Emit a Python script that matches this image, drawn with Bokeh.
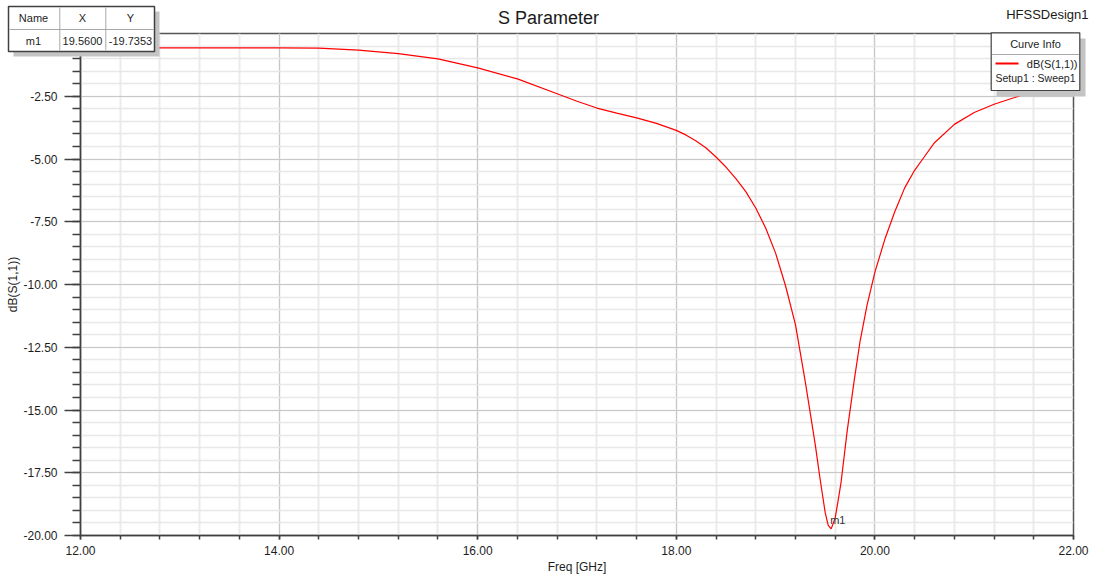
from bokeh.plotting import figure
from bokeh.layouts import column
from bokeh.models import SingleIntervalTicker, PrintfTickFormatter, Label, BoxAnnotation, Range1d
from bokeh.embed import file_html
from bokeh.resources import INLINE

# ---- data ----
freq_ghz = [12.0, 12.4, 12.8, 13.2, 13.6, 14.0, 14.4, 14.8, 15.2, 15.6, 16.0, 16.4, 16.8,
            17.0, 17.2, 17.4, 17.6, 17.8, 18.0, 18.1, 18.2, 18.3, 18.4, 18.5, 18.6, 18.7,
            18.8, 18.9, 19.0, 19.1, 19.2, 19.3, 19.4, 19.45, 19.5, 19.53, 19.56, 19.6,
            19.63, 19.66, 19.72, 19.79, 19.85, 19.92, 20.0, 20.1, 20.2, 20.3, 20.4, 20.5,
            20.6, 20.8, 21.0, 21.2, 21.4, 21.6, 21.8, 22.0]
db_s11 = [-0.57, -0.57, -0.57, -0.57, -0.57, -0.57, -0.58, -0.66, -0.80, -1.01, -1.37, -1.81, -2.40,
          -2.70, -2.97, -3.17, -3.36, -3.58, -3.86, -4.05, -4.28, -4.56, -4.92, -5.32, -5.78, -6.30,
          -6.95, -7.75, -8.75, -10.05, -11.60, -13.90, -16.40, -17.80, -19.10, -19.60, -19.7353, -19.30,
          -18.60, -17.86, -15.86, -13.87, -12.28, -10.84, -9.51, -8.20, -7.10, -6.15, -5.45, -4.90,
          -4.35, -3.62, -3.15, -2.82, -2.56, -2.29, -2.12, -1.98]

marker_name = "m1"
marker_x = 19.5600
marker_y = -19.7353

x_range = (12.0, 22.0)
y_range = (-20.0, 0.0)
x_tick_step = 2.0
y_tick_step = 2.5

title_text = "S Parameter"
design_text = "HFSSDesign1"
x_label = "Freq [GHz]"
y_label = "dB(S(1,1))"
table_headers = ["Name", "X", "Y"]
table_row = [marker_name, "%.4f" % marker_x, "%.4f" % marker_y]
legend_title = "Curve Info"
legend_curve = "dB(S(1,1))"
legend_setup = "Setup1 : Sweep1"

# ---- layout ----
W, H = 1095, 576
FL, FR, FT, FB = 80, 1073, 33, 537
FONT = "Liberation Sans"
TXT = "#1e1e1e"

# ---------------- main chart ----------------
p = figure(width=W, height=H, output_backend="svg", toolbar_location=None, title=None,
           x_range=Range1d(*x_range), y_range=Range1d(*y_range),
           min_border_left=FL, min_border_right=W - FR, min_border_top=FT, min_border_bottom=H - FB,
           margin=(0, 0, 0, 0))
p.frame_align = False
p.background_fill_color = "white"
p.border_fill_color = "white"
p.outline_line_color = "#555555"
p.outline_line_width = 1.5

p.xaxis.ticker = SingleIntervalTicker(interval=x_tick_step, num_minor_ticks=5)
p.yaxis.ticker = SingleIntervalTicker(interval=y_tick_step, num_minor_ticks=5)
p.xaxis.formatter = PrintfTickFormatter(format="%.2f")
p.yaxis.formatter = PrintfTickFormatter(format="%.2f")
p.yaxis.major_label_overrides = {0: ""}

for ax in (p.xaxis, p.yaxis):
    ax.axis_line_color = "#404040"
    ax.axis_line_width = 1.5
    ax.major_tick_line_color = "#404040"
    ax.minor_tick_line_color = "#404040"
    ax.major_tick_line_width = 1.5
    ax.minor_tick_line_width = 1.5
    ax.major_tick_in = 0
    ax.minor_tick_in = 0
    ax.major_label_text_font = FONT
    ax.major_label_text_font_size = "12px"
    ax.major_label_text_color = TXT
    ax.axis_label_text_font = FONT
    ax.axis_label_text_font_size = "12px"
    ax.axis_label_text_font_style = "normal"
    ax.axis_label_text_color = TXT

p.xaxis.major_tick_out = 4
p.xaxis.minor_tick_out = 4
p.xaxis.major_label_standoff = 6
p.xaxis.axis_label = x_label
p.xaxis.axis_label_standoff = 2

p.yaxis.major_tick_out = 16
p.yaxis.minor_tick_out = 8
p.yaxis.major_label_standoff = 7
p.yaxis.axis_label = y_label
p.yaxis.axis_label_standoff = 0

p.xgrid.grid_line_color = "#c8c8c8"
p.ygrid.grid_line_color = "#c8c8c8"
p.xgrid.minor_grid_line_color = "#ebebeb"
p.ygrid.minor_grid_line_color = "#e8e8e8"
p.xgrid.minor_grid_line_width = 2
p.ygrid.minor_grid_line_width = 1.5

p.line(freq_ghz, db_s11, line_color="#ff0000", line_width=1.2)

# marker label next to the minimum
p.add_layout(Label(x=marker_x, y=marker_y, x_offset=-1, y_offset=3, text=marker_name,
                   text_align="left", text_baseline="bottom", text_font=FONT,
                   text_font_size="11px", text_color="#333333"))

# ---------------- overlay (titles, marker table, curve info) ----------------
ov = figure(width=W, height=H, output_backend="svg", toolbar_location=None, title=None,
            x_range=Range1d(0, W), y_range=Range1d(H, 0),
            x_axis_location=None, y_axis_location=None,
            min_border=0, min_border_left=0, min_border_right=0, min_border_top=0, min_border_bottom=0,
            margin=(-H, 0, 0, 0))
ov.frame_align = False
ov.background_fill_color = None
ov.border_fill_color = None
ov.outline_line_color = None
ov.xgrid.visible = False
ov.ygrid.visible = False

def add_text(px, py, text, size, align="center", color=TXT):
    ov.add_layout(Label(x=px, y=py, text=text, text_align=align, text_baseline="middle",
                        text_font=FONT, text_font_size=size, text_color=color))

def add_box(l, r, t, b, fill, line=None, lw=1.0):
    ov.add_layout(BoxAnnotation(left=l, right=r, top=t, bottom=b,
                                fill_color=fill, fill_alpha=1.0,
                                line_color=line if line else "white",
                                line_alpha=1.0 if line else 0.0, line_width=lw))

add_text(548, 17, title_text, "18px", color="#1a1a1a")
add_text(1088, 14, design_text, "13px", align="right", color="#1a1a1a")

# marker table
add_box(13, 159, 11, 56, "#c4c4c4")
add_box(8, 154, 6, 51, "white", "#404040", 1.5)
add_box(9, 153, 28.5, 29.5, "#a8a8a8")
add_box(58.8, 59.8, 7, 50, "#a8a8a8")
add_box(104.8, 105.8, 7, 50, "#a8a8a8")
col_centers = [33, 82, 130]
for cx, h, v in zip(col_centers, table_headers, table_row):
    add_text(cx, 17.5, h, "11px")
    add_text(cx, 40, v, "11px")

# curve info legend
add_box(996, 1085, 38, 96, "#c4c4c4")
add_box(990.7, 1079.3, 32.3, 90, "white", "#404040", 1.2)
add_box(991.5, 1078.5, 53.5, 54.5, "#a8a8a8")
add_box(995, 1018, 62, 64, "#ff0000")
add_text(1035, 43.5, legend_title, "11px")
add_text(1077, 63, legend_curve, "11px", align="right")
add_text(1035, 77.5, legend_setup, "10.5px")

layout = column(p, ov, spacing=0, margin=(0, 0, 0, 0))
open("out.html", "w").write(file_html(layout, INLINE))
